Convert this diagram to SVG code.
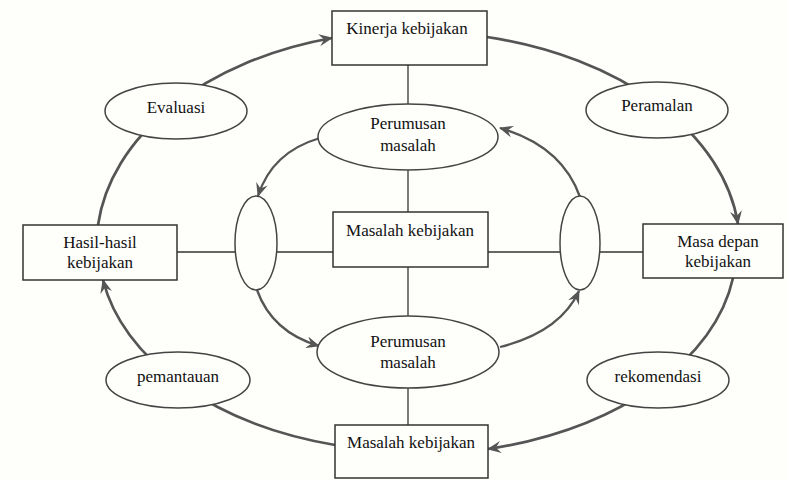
<svg xmlns="http://www.w3.org/2000/svg" width="789" height="480" viewBox="0 0 789 480">
<defs>
<style>
.bg{fill:#fefefb}
.box{fill:#fefefb;stroke:#333;stroke-width:1.5}
.ell{fill:#fefefb;stroke:#444;stroke-width:1.5}
.t{font-family:"Liberation Serif","Times New Roman",serif;font-size:17px;fill:#111;text-anchor:middle}
.outer{fill:none;stroke:#555;stroke-width:2.7}
.inner{fill:none;stroke:#555;stroke-width:2.3}
.line{fill:none;stroke:#333;stroke-width:1.3}
</style>
<marker id="ah" viewBox="0 0 14 12" refX="13" refY="6" markerWidth="14" markerHeight="12" markerUnits="userSpaceOnUse" orient="auto">
<path d="M0,0 L14,6 L0,12 L5,6 z" fill="#555"/>
</marker>
</defs>
<rect class="bg" x="0" y="0" width="789" height="480"/>
<g id="connectors">
<line class="line" x1="177" y1="252" x2="643" y2="252"/>
<line class="line" x1="408" y1="65" x2="408" y2="425"/>
<path class="outer" d="M98,225 A315,215 0 0 1 332,38" marker-end="url(#ah)"/>
<path class="outer" d="M487,37 A325,215 0 0 1 738,224" marker-end="url(#ah)"/>
<path class="outer" d="M733,278 A325,205 0 0 1 488,449" marker-end="url(#ah)"/>
<path class="outer" d="M335,445 A315,205 0 0 1 103,280" marker-end="url(#ah)"/>
<path class="inner" d="M320,138 Q272,152 258,196" marker-end="url(#ah)"/>
<path class="inner" d="M580,197 Q562,146 500,128" marker-end="url(#ah)"/>
<path class="inner" d="M257,290 Q272,332 319,346" marker-end="url(#ah)"/>
<path class="inner" d="M500,347 Q560,332 579,291" marker-end="url(#ah)"/>
</g>
<g id="kinerja">
<rect class="box" x="332" y="11" width="155" height="54"/>
<text class="t" x="407" y="34">Kinerja kebijakan</text>
</g>
<g id="hasil">
<rect class="box" x="23" y="225" width="154" height="55"/>
<text class="t" x="100" y="248">Hasil-hasil</text>
<text class="t" x="100" y="268">kebijakan</text>
</g>
<g id="masa-depan">
<rect class="box" x="643" y="224" width="140" height="54"/>
<text class="t" x="718" y="247">Masa depan</text>
<text class="t" x="718" y="267">kebijakan</text>
</g>
<g id="masalah-bawah">
<rect class="box" x="335" y="425" width="153" height="53"/>
<text class="t" x="411" y="448">Masalah kebijakan</text>
</g>
<g id="masalah-tengah">
<rect class="box" x="333" y="212" width="155" height="55"/>
<text class="t" x="410" y="236">Masalah kebijakan</text>
</g>
<g id="perumusan-atas">
<ellipse class="ell" cx="408" cy="137" rx="90" ry="33"/>
<text class="t" x="408" y="129">Perumusan</text>
<text class="t" x="408" y="151">masalah</text>
</g>
<g id="perumusan-bawah">
<ellipse class="ell" cx="408" cy="352" rx="91" ry="36"/>
<text class="t" x="408" y="347">Perumusan</text>
<text class="t" x="408" y="368">masalah</text>
</g>
<g id="oval-kiri">
<ellipse class="ell" cx="256" cy="243" rx="21" ry="47"/>
</g>
<g id="oval-kanan">
<ellipse class="ell" cx="580" cy="243" rx="20" ry="47"/>
</g>
<g id="evaluasi">
<ellipse class="ell" cx="176" cy="111" rx="71" ry="28"/>
<text class="t" x="176" y="113">Evaluasi</text>
</g>
<g id="peramalan">
<ellipse class="ell" cx="657" cy="110" rx="71" ry="28"/>
<text class="t" x="657" y="111">Peramalan</text>
</g>
<g id="pemantauan">
<ellipse class="ell" cx="178" cy="380" rx="72" ry="28"/>
<text class="t" x="178" y="382">pemantauan</text>
</g>
<g id="rekomendasi">
<ellipse class="ell" cx="658" cy="380" rx="71" ry="28"/>
<text class="t" x="658" y="382">rekomendasi</text>
</g>
</svg>
